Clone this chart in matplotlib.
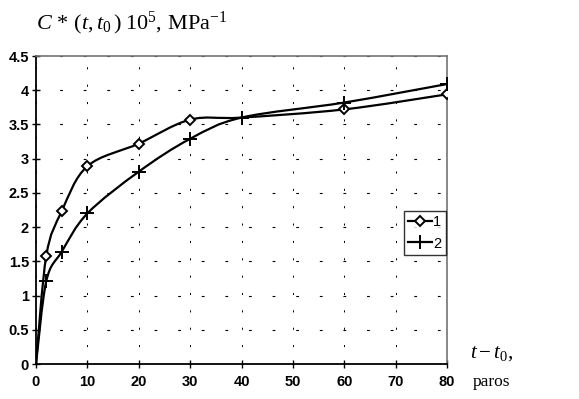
import numpy as np
import matplotlib
matplotlib.use("Agg")
import matplotlib.pyplot as plt
from matplotlib.path import Path
from matplotlib.patches import PathPatch
from matplotlib.lines import Line2D

# ---- data ----
x1 = [0, 2, 5, 10, 20, 30, 40, 60, 80]
y1 = [0, 1.58, 2.23, 2.89, 3.22, 3.57, 3.60, 3.72, 3.94]
x2 = [0, 2, 5, 10, 20, 30, 40, 60, 80]
y2 = [0, 1.21, 1.64, 2.20, 2.81, 3.29, 3.60, 3.82, 4.09]
xticks = [0, 10, 20, 30, 40, 50, 60, 70, 80]
yticks = [0, 0.5, 1, 1.5, 2, 2.5, 3, 3.5, 4, 4.5]
ytick_labels = ["0", "0.5", "1", "1.5", "2", "2.5", "3", "3.5", "4", "4.5"]
legend_labels = ["1", "2"]

plt.rcParams['lines.scale_dashes'] = False
plt.rcParams['mathtext.fontset'] = 'custom'
plt.rcParams['mathtext.rm'] = 'Liberation Serif'
plt.rcParams['mathtext.it'] = 'Liberation Serif:italic'

fig = plt.figure(figsize=(5.79, 3.99), dpi=100)
ax = fig.add_axes([36/579, 1-364/399, 411/579, 308/399])


def smooth_path(xs, ys):
    pts = np.column_stack([xs, ys]).astype(float)
    n = len(pts)
    verts = [pts[0]]
    codes = [Path.MOVETO]
    for i in range(n - 1):
        p0 = pts[i - 1] if i > 0 else pts[i]
        p1 = pts[i]
        p2 = pts[i + 1]
        p3 = pts[i + 2] if i + 2 < n else pts[i + 1]
        c1 = p1 + (p2 - p0) / 6.0
        c2 = p2 - (p3 - p1) / 6.0
        verts += [c1, c2, p2]
        codes += [Path.CURVE4] * 3
    return Path(verts, codes)


for xs, ys in [(x1, y1), (x2, y2)]:
    ax.add_patch(PathPatch(smooth_path(xs, ys), facecolor='none',
                           edgecolor='black', lw=1.6, zorder=3))

ax.plot(x1, y1, linestyle='none', marker='D', markersize=5.5,
        markevery=[1, 2, 3, 4, 5, 7, 8],
        markerfacecolor='white', markeredgecolor='black', mew=1.4, zorder=4)
ax.plot(x2, y2, linestyle='none', marker='+', markersize=10,
        markevery=[1, 2, 3, 4, 5, 6, 7, 8],
        color='black', mew=1.4, zorder=4)

ax.set_xlim(0, 80)
ax.set_ylim(0, 4.5)
ax.set_xticks(xticks)
ax.set_yticks(yticks)
ax.set_yticklabels(ytick_labels)

for lab in ax.get_xticklabels() + ax.get_yticklabels():
    lab.set_fontfamily(['Liberation Sans Narrow', 'Liberation Sans'])
    lab.set_fontsize(10.5)
    lab.set_fontweight('bold')

ax.tick_params(direction='inout', length=6, width=1, color='black', pad=2)
ax.tick_params(axis='x', pad=5)

ax.yaxis.grid(True, color='black', lw=0.8, linestyle=(0, (2, 15)))
ax.xaxis.grid(True, color='black', lw=0.7, linestyle=(0, (1.5, 11)))
ax.set_axisbelow(True)

for s in ['left', 'bottom']:
    ax.spines[s].set_color('black')
    ax.spines[s].set_linewidth(1.3)
for s in ['top', 'right']:
    ax.spines[s].set_color('0.45')
    ax.spines[s].set_linewidth(1.2)

handles = [
    Line2D([], [], color='black', lw=1.6, marker='D', markersize=5,
           markerfacecolor='white', mew=1.4),
    Line2D([], [], color='black', lw=1.6, marker='+', markersize=10, mew=1.4),
]
leg = ax.legend(handles, legend_labels, loc='upper right',
                bbox_to_anchor=(0.997, 0.497), frameon=True, fancybox=False,
                edgecolor='black', handlelength=1.6, handletextpad=0.1,
                borderpad=0.3, labelspacing=0.5, borderaxespad=0.0,
                prop=dict(family='Liberation Sans', size=10.5))
leg.get_frame().set_linewidth(1.0)

fig.text(36/579, 1-29/399, r"$C\,*\,(t,t_0\,)\;\mathrm{10^5,\,MPa^{-1}}$",
         fontsize=16, ha='left', va='baseline')
fig.text(470/579, 1-358/399, r"$t - t_0,$", fontsize=15,
         ha='left', va='baseline')
fig.text(473/579, 1-386/399, "paros", family='Liberation Serif',
         fontsize=12.5, ha='left', va='baseline')

fig.savefig('out.png', dpi=100)
